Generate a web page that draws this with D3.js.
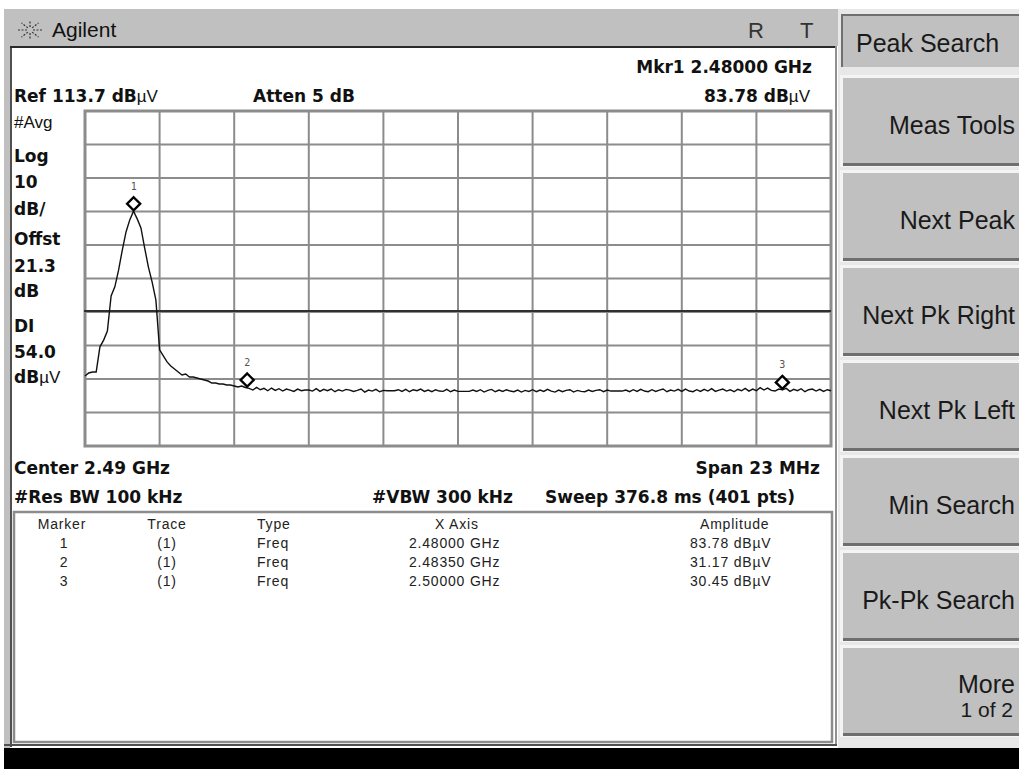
<!DOCTYPE html>
<html>
<head>
<meta charset="utf-8">
<script src="https://cdn.jsdelivr.net/npm/d3@7/dist/d3.min.js"></script>
<style>
  body { margin: 0; background: #fff; }
  svg { display: block; }
</style>
</head>
<body>
<svg id="screen" width="1019" height="769"></svg>
<script>
// instrument settings
var refLevel = 113.7;
var dbPerDiv = 10;
var displayLine = 54.0;
var centerGHz = 2.49;
var spanGHz = 0.023;

// averaged trace, dBuV (read every 2nd of the 401 sweep points)
var trace = [
  34.6, 35.5, 35.8, 35.8, 43.3, 45.3, 48.0, 58.5, 61.2, 66.2,
  72.2, 77.6, 81.2, 83.78, 81.5, 78.8, 72.8, 67.1, 62.6, 57.3,
  42.4, 40.6, 38.8, 37.6, 36.7, 35.8, 34.9, 35.2, 34.3, 34.3,
  34.0, 33.7, 33.4, 33.1, 32.5, 32.5, 32.2, 32.2, 31.9, 31.9,
  31.6, 31.3, 31.6, 31.17,
  30.9, 30.4, 31.2, 30.5, 30.9, 30.2, 31.0, 30.3, 30.8, 30.1, 30.7, 30.4, 30.0, 30.7, 30.2, 30.4, 30.4,
  30.1, 30.8, 30.0, 30.6, 30.2, 30.7, 29.9, 30.5, 30.1, 30.6, 30.4, 30.0, 30.3, 30.7, 29.8, 30.4, 30.1, 30.6, 29.9, 30.3,
  30.2, 30.2, 30.2, 30.5, 30.0, 30.6, 29.9, 30.5, 30.2, 30.7, 30.0, 30.4, 29.9, 30.5, 30.1, 30.0, 30.6, 29.9, 30.4, 30.0,
  30.0, 30.0, 30.0, 30.4, 30.0, 30.5, 29.8, 30.3, 30.6, 29.9, 30.4, 30.0, 30.5, 30.1, 29.9, 30.4, 29.8, 30.3, 30.0, 30.5,
  29.9, 30.4, 30.0, 30.6, 30.1, 29.8, 30.4, 29.9, 30.3, 30.5, 29.8, 30.3, 30.0, 29.9, 30.4, 30.0, 30.3, 30.5, 29.9, 30.4,
  30.1, 30.1, 30.1, 30.1, 30.4, 29.9, 30.5, 30.0, 30.6, 30.1, 29.9, 30.5, 30.0, 30.4, 30.7, 29.9, 30.4, 30.1, 30.6, 30.0,
  30.7, 30.1, 29.9, 30.5, 30.0, 30.6, 30.1, 30.8, 30.0, 30.4, 30.7, 30.1, 30.5, 29.9, 30.6, 30.2, 30.9, 30.1, 30.7, 30.2,
  31.1, 30.4, 31.0, 30.3, 30.1, 30.7, 30.45, 30.9, 30.0, 30.6, 30.2, 30.8, 29.9, 30.5, 30.7, 30.1, 30.6, 30.0, 30.5, 30.2
];

// marker table
var markerIds = ['1', '2', '3'];
var markerTrace = ['(1)', '(1)', '(1)'];
var markerType = ['Freq', 'Freq', 'Freq'];
var markerFreq = [2.48000, 2.48350, 2.50000];
var markerAmp = [83.78, 31.17, 30.45];
var tableHead = ['Marker', 'Trace', 'Type', 'X Axis', 'Amplitude'];

var leftLabels = ['Log', '10', 'dB/', 'Offst', '21.3', 'dB', 'DI', '54.0', 'dB'];
var softkeys = ['Meas Tools', 'Next Peak', 'Next Pk Right', 'Next Pk Left', 'Min Search', 'Pk-Pk Search', 'More'];

var svg = d3.select('#screen');
var gray = '#c0c0c0';
var sans = '"Liberation Sans", Arial, sans-serif';
var bold = '"DejaVu Sans", sans-serif';

// ---- frame / title bar ----
svg.append('rect').attr('x', 4).attr('y', 9).attr('width', 836).attr('height', 37).attr('fill', gray);
svg.append('rect').attr('x', 4).attr('y', 46).attr('width', 833).attr('height', 2).attr('fill', '#2a2a2a');
svg.append('rect').attr('x', 4).attr('y', 46).attr('width', 6).attr('height', 702).attr('fill', gray);
svg.append('rect').attr('x', 10).attr('y', 48).attr('width', 2).attr('height', 699).attr('fill', '#505050');
svg.append('rect').attr('x', 835).attr('y', 46).attr('width', 2).attr('height', 700).attr('fill', '#909090');
svg.append('rect').attr('x', 4).attr('y', 744).attr('width', 833).attr('height', 2).attr('fill', '#505050');

// agilent spark
var spark = svg.append('g').attr('transform', 'translate(30,30)');
d3.range(8).forEach(function(k) {
  var a = k * Math.PI / 4;
  spark.append('line')
    .attr('x1', Math.cos(a) * 3).attr('y1', Math.sin(a) * 3)
    .attr('x2', Math.cos(a) * 12).attr('y2', Math.sin(a) * 10)
    .attr('stroke', '#333').attr('stroke-width', 1.2).attr('stroke-dasharray', '2,1.5');
});
svg.append('text').attr('x', 52).attr('y', 37).text('Agilent')
  .style('font-family', sans).style('font-size', '21px').attr('fill', '#111');
svg.append('text').attr('x', 748).attr('y', 38).text('R')
  .style('font-family', sans).style('font-size', '22px').attr('fill', '#333');
svg.append('text').attr('x', 800).attr('y', 38).text('T')
  .style('font-family', sans).style('font-size', '22px').attr('fill', '#333');

// ---- softkeys ----
svg.append('rect').attr('x', 838).attr('y', 9).attr('width', 181).attr('height', 739).attr('fill', '#e8e8e8');
// title key (inset)
svg.append('rect').attr('x', 841).attr('y', 14).attr('width', 178).attr('height', 53).attr('fill', gray);
svg.append('rect').attr('x', 841).attr('y', 14).attr('width', 178).attr('height', 2).attr('fill', '#707070');
svg.append('rect').attr('x', 841).attr('y', 14).attr('width', 2).attr('height', 53).attr('fill', '#707070');
svg.append('text').attr('x', 856).attr('y', 52).text('Peak Search')
  .style('font-family', sans).style('font-size', '25px').attr('fill', '#1a1a1a');

var keyY = d3.scaleLinear().domain([0, 1]).range([77, 172]);
var keys = svg.append('g').selectAll('g').data(softkeys).enter().append('g')
  .attr('transform', function(d, i) { return 'translate(0,' + keyY(i) + ')'; });
keys.append('rect').attr('x', 840).attr('y', -2).attr('width', 179).attr('height', 92).attr('fill', '#f4f4f4');
keys.append('rect').attr('x', 843).attr('y', 1).attr('width', 176).attr('height', 86).attr('fill', gray);
keys.append('rect').attr('x', 843).attr('y', 86).attr('width', 176).attr('height', 3).attr('fill', '#6e6e6e');
keys.append('text').attr('x', 1015)
  .attr('y', function(d, i) { return i === softkeys.length - 1 ? 46 : 57; })
  .attr('text-anchor', 'end')
  .text(function(d) { return d; })
  .style('font-family', sans).style('font-size', '25px').attr('fill', '#1a1a1a');
svg.append('text').attr('x', 1013).attr('y', keyY(6) + 70).attr('text-anchor', 'end').text('1 of 2')
  .style('font-family', sans).style('font-size', '21px').attr('fill', '#1a1a1a');

// bottom status bar
svg.append('rect').attr('x', 4).attr('y', 748).attr('width', 1015).attr('height', 21).attr('fill', '#000');

// ---- graticule ----
var startGHz = centerGHz - spanGHz / 2, stopGHz = centerGHz + spanGHz / 2;
var x = d3.scaleLinear().domain([startGHz, stopGHz]).range([85, 831]);
var y = d3.scaleLinear().domain([refLevel - 10 * dbPerDiv, refLevel]).range([446, 111]);

var grid = svg.append('g');
grid.selectAll('.vl').data(d3.range(1, 10)).enter().append('line')
  .attr('x1', function(k) { return x(startGHz + k * spanGHz / 10); })
  .attr('x2', function(k) { return x(startGHz + k * spanGHz / 10); })
  .attr('y1', y.range()[1]).attr('y2', y.range()[0])
  .attr('stroke', '#8c8c8c').attr('stroke-width', 2);
grid.selectAll('.hl').data(d3.range(1, 10)).enter().append('line')
  .attr('x1', x.range()[0]).attr('x2', x.range()[1])
  .attr('y1', function(k) { return y(refLevel - k * dbPerDiv); })
  .attr('y2', function(k) { return y(refLevel - k * dbPerDiv); })
  .attr('stroke', '#8c8c8c').attr('stroke-width', 2);
grid.append('rect').attr('x', x.range()[0]).attr('y', y.range()[1])
  .attr('width', x.range()[1] - x.range()[0]).attr('height', y.range()[0] - y.range()[1])
  .attr('fill', 'none').attr('stroke', '#8c8c8c').attr('stroke-width', 3);
grid.append('line').attr('x1', x.range()[0] - 1).attr('x2', x.range()[1])
  .attr('y1', y(displayLine)).attr('y2', y(displayLine))
  .attr('stroke', '#303030').attr('stroke-width', 2);

// trace
var line = d3.line()
  .x(function(d, i) { return x(startGHz + i * spanGHz / (trace.length - 1)); })
  .y(function(d) { return y(d); });
svg.append('path').datum(trace).attr('d', line)
  .attr('fill', 'none').attr('stroke', '#111').attr('stroke-width', 1.4);

// markers
var mk = svg.append('g').selectAll('g').data(markerIds).enter().append('g')
  .attr('transform', function(d, i) { return 'translate(' + x(markerFreq[i]) + ',' + (y(markerAmp[i]) - 7.5) + ')'; });
mk.append('path').attr('d', 'M0,-6.5L6.5,0L0,6.5L-6.5,0Z')
  .attr('fill', '#fff').attr('stroke', '#000').attr('stroke-width', 2.4);
mk.append('text').attr('y', -14).attr('text-anchor', 'middle').text(function(d) { return d; })
  .style('font-family', '"DejaVu Sans Mono", monospace').style('font-size', '10px').attr('fill', '#555');

// ---- annotation text ----
function label(tx, ty, str, anchor, unit) {
  var t = svg.append('text').attr('x', tx).attr('y', ty).attr('text-anchor', anchor || 'start')
    .style('font-family', bold).style('font-weight', 'bold').style('font-size', '17px').attr('fill', '#111');
  t.append('tspan').text(str);
  if (unit) t.append('tspan').text('µV').style('font-weight', 'normal').style('font-family', sans);
  return t;
}
label(812, 73, 'Mkr1  2.48000 GHz', 'end');
label(14, 102, 'Ref 113.7 dB', 'start', true);
label(253, 102, 'Atten 5 dB');
label(810, 102, '83.78 dB', 'end', true);
svg.append('text').attr('x', 14).attr('y', 128).text('#Avg')
  .style('font-family', sans).style('font-size', '17px').attr('fill', '#111');
var leftY = [162, 188, 215, 245, 272, 297, 332, 358, 383];
leftLabels.forEach(function(s, i) { label(14, leftY[i], s, 'start', i === leftLabels.length - 1); });
label(14, 474, 'Center 2.49 GHz');
label(820, 474, 'Span 23 MHz', 'end');
label(14, 503, '#Res BW 100 kHz');
label(372, 503, '#VBW 300 kHz');
label(795, 503, 'Sweep 376.8 ms (401 pts)', 'end');

// ---- marker table ----
svg.append('rect').attr('x', 14).attr('y', 512).attr('width', 818).attr('height', 230)
  .attr('fill', '#fff').attr('stroke', '#8c8c8c').attr('stroke-width', 2.5);
var colX = [62, 167, 257, 435, 700];
var colAnchor = ['middle', 'middle', 'start', 'start', 'start'];
var rowY = d3.scaleLinear().domain([0, 1]).range([548, 567]);
function cell(cx, cy, str, anchor) {
  return svg.append('text').attr('x', cx).attr('y', cy).attr('text-anchor', anchor).text(str)
    .style('font-family', sans).style('font-size', '14px').style('letter-spacing', '0.8px').attr('fill', '#222');
}
tableHead.forEach(function(h, c) { cell(colX[c], 529, h, colAnchor[c]); });
markerIds.forEach(function(id, r) {
  cell(colX[0] + 2, rowY(r), id, 'middle');
  cell(colX[1], rowY(r), markerTrace[r], 'middle');
  cell(colX[2], rowY(r), markerType[r], 'start');
  cell(409, rowY(r), d3.format('.5f')(markerFreq[r]) + ' GHz', 'start');
  cell(690, rowY(r), d3.format('.2f')(markerAmp[r]) + ' dBµV', 'start');
});
</script>
</body>
</html>
